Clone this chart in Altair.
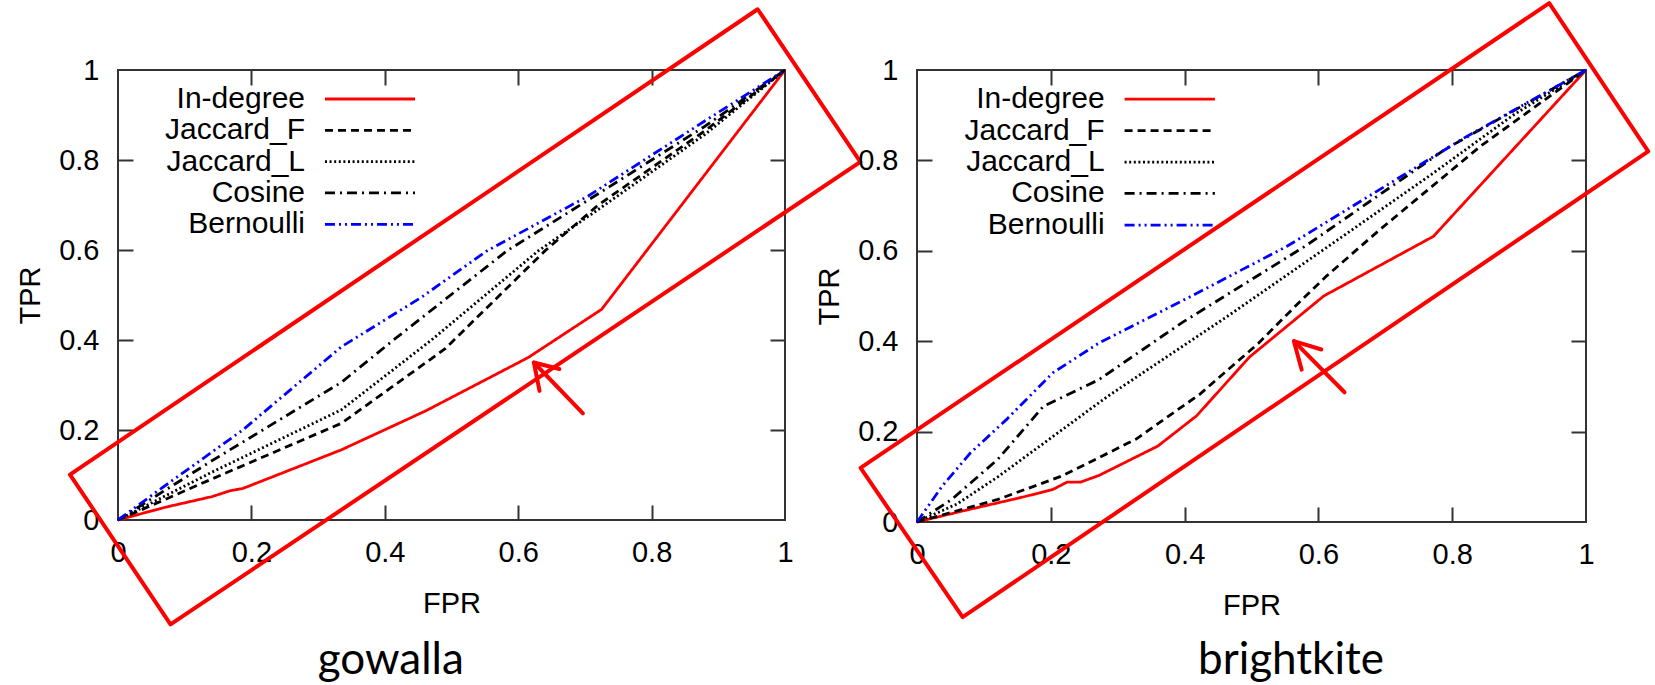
import altair as alt
import pandas as pd

# ---------------- series definitions ----------------
SERIES = ["In-degree", "Jaccard_F", "Jaccard_L", "Cosine", "Bernoulli"]
SERIES_COLORS = ["#ff0000", "#000000", "#000000", "#000000", "#0000ff"]
SERIES_DASHES = [[1, 0], [8, 5], [2, 2.6], [10, 5, 2, 5], [10, 4, 2, 4, 2, 4]]

AXIS_TICKS = [0, 0.2, 0.4, 0.6, 0.8, 1]
INNER_TICKS = [0.2, 0.4, 0.6, 0.8]

# ---------------- gowalla (left) ----------------
gow_indegree_fpr = [0, 0.07, 0.141, 0.168, 0.187, 0.335, 0.462, 0.615, 0.725, 1]
gow_indegree_tpr = [0, 0.028, 0.052, 0.065, 0.07, 0.156, 0.243, 0.361, 0.468, 1]
gow_jacf_fpr = [0, 0.139, 0.335, 0.49, 0.64, 0.72, 0.88, 1]
gow_jacf_tpr = [0, 0.09, 0.215, 0.38, 0.598, 0.7, 0.865, 1]
gow_jacl_fpr = [0, 0.139, 0.335, 0.47, 0.63, 0.72, 0.88, 1]
gow_jacl_tpr = [0, 0.105, 0.245, 0.4, 0.598, 0.69, 0.857, 1]
gow_cos_fpr = [0, 0.139, 0.335, 0.413, 0.583, 0.72, 0.88, 1]
gow_cos_tpr = [0, 0.13, 0.306, 0.4, 0.598, 0.725, 0.875, 1]
gow_ber_fpr = [0, 0.06, 0.187, 0.335, 0.455, 0.553, 0.705, 0.878, 1]
gow_ber_tpr = [0, 0.065, 0.2, 0.385, 0.495, 0.598, 0.72, 0.885, 1]

# ---------------- brightkite (right) ----------------
bk_indegree_fpr = [0, 0.07, 0.155, 0.203, 0.224, 0.244, 0.272, 0.36, 0.418, 0.497, 0.608, 0.772, 1]
bk_indegree_tpr = [0, 0.025, 0.054, 0.072, 0.088, 0.088, 0.103, 0.168, 0.235, 0.365, 0.5, 0.632, 1]
bk_jacf_fpr = [0, 0.121, 0.217, 0.327, 0.423, 0.51, 0.574, 0.612, 0.692, 0.842, 1]
bk_jacf_tpr = [0, 0.05, 0.102, 0.183, 0.283, 0.395, 0.49, 0.544, 0.647, 0.831, 1]
bk_jacl_fpr = [0, 0.06, 0.121, 0.285, 0.464, 0.615, 0.77, 0.891, 1]
bk_jacl_tpr = [0, 0.04, 0.1, 0.278, 0.455, 0.61, 0.77, 0.9, 1]
bk_cos_fpr = [0, 0.052, 0.121, 0.189, 0.272, 0.395, 0.58, 0.79, 1]
bk_cos_tpr = [0, 0.05, 0.139, 0.256, 0.315, 0.44, 0.61, 0.825, 1]
bk_ber_fpr = [0, 0.038, 0.08, 0.134, 0.203, 0.272, 0.409, 0.553, 0.68, 0.817, 1]
bk_ber_tpr = [0, 0.08, 0.153, 0.227, 0.33, 0.396, 0.499, 0.61, 0.725, 0.849, 1]

# ---------------- legend (data units) ----------------
legend_text_fpr = 0.2804
legend_line_fpr = [0.3103, 0.4453]
legend_rows_tpr = [0.9356, 0.866, 0.7964, 0.727, 0.657]

# ---------------- red annotations (data units) ----------------
gow_rect_fpr = [-0.072, 0.959, 1.113, 0.0787, -0.072]
gow_rect_tpr = [0.101, 1.135, 0.796, -0.232, 0.101]
gow_shaft_fpr = [0.697, 0.6235]
gow_shaft_tpr = [0.237, 0.350]
gow_head_fpr = [0.632, 0.6235, 0.6617]
gow_head_tpr = [0.287, 0.350, 0.3356]

bk_rect_fpr = [-0.0843, 0.945, 1.093, 0.0682, -0.0843]
bk_rect_tpr = [0.1196, 1.148, 0.82, -0.2104, 0.1196]
bk_shaft_fpr = [0.639, 0.5634]
bk_shaft_tpr = [0.287, 0.400]
bk_head_fpr = [0.575, 0.5634, 0.6045]
bk_head_tpr = [0.337, 0.400, 0.3816]

gow_caption = "gowalla"
gow_caption_fpr = 0.409
bk_caption = "brightkite"
bk_caption_fpr = 0.559

FONT = "Liberation Sans"
FS = 29
FRAME = "#333333"
LW = 2.8


def curves_frame(curves):
    rows = []
    for name, (fx, ty) in zip(SERIES, curves):
        for i, (a, b) in enumerate(zip(fx, ty)):
            rows.append({"series": name, "fpr": a, "tpr": b, "idx": i})
    return pd.DataFrame(rows)


def shapes_frame(shapes):
    rows = []
    for name, (fx, ty) in shapes.items():
        for i, (a, b) in enumerate(zip(fx, ty)):
            rows.append({"shape": name, "fpr": a, "tpr": b, "idx": i})
    return pd.DataFrame(rows)


def tick_axis(orient):
    return alt.Axis(orient=orient, values=INNER_TICKS, labels=False, domain=False,
                    grid=False, ticks=True, tickSize=15, tickWidth=2,
                    tickColor=FRAME, offset=-15, title=None)


def panel(curves, shapes, caption, caption_fpr, w, h):
    xs = alt.Scale(domain=[0, 1], nice=False, zero=False)
    ys = alt.Scale(domain=[0, 1], nice=False, zero=False)
    color = alt.Color("series:N", scale=alt.Scale(domain=SERIES, range=SERIES_COLORS), legend=None)
    dash = alt.StrokeDash("series:N", scale=alt.Scale(domain=SERIES, range=SERIES_DASHES), legend=None)

    x_lab = alt.Axis(orient="bottom", values=AXIS_TICKS, format="~g", ticks=False, domain=False,
                     grid=False, labelFont=FONT, labelFontSize=FS, labelColor="#000",
                     labelPadding=18, labelFlush=False, labelOverlap=False, labelBound=False,
                     title="FPR", titleFont=FONT, titleFontSize=FS, titleFontWeight="normal",
                     titleColor="#000", titlePadding=22)
    y_lab = alt.Axis(orient="left", values=AXIS_TICKS, format="~g", ticks=False, domain=False,
                     grid=False, labelFont=FONT, labelFontSize=FS, labelColor="#000",
                     labelPadding=19, labelFlush=False, labelOverlap=False, labelBound=False,
                     title="TPR", titleFont=FONT, titleFontSize=FS, titleFontWeight="normal",
                     titleColor="#000", titlePadding=13)

    df = curves_frame(curves)
    lines = alt.Chart(df).mark_line(strokeWidth=LW, clip=False).encode(
        x=alt.X("fpr:Q", scale=xs, axis=x_lab),
        y=alt.Y("tpr:Q", scale=ys, axis=y_lab),
        color=color, strokeDash=dash, order=alt.Order("idx:Q"),
    )

    leg = pd.DataFrame({
        "series": SERIES,
        "tx": [legend_text_fpr] * 5,
        "x1": [legend_line_fpr[0]] * 5,
        "x2": [legend_line_fpr[1]] * 5,
        "ty": legend_rows_tpr,
    })
    leg_text = alt.Chart(leg).mark_text(align="right", baseline="middle", font=FONT,
                                        fontSize=30, color="#000").encode(
        x=alt.X("tx:Q", scale=xs, axis=tick_axis("bottom")),
        y=alt.Y("ty:Q", scale=ys, axis=tick_axis("left")),
        text="series:N",
    )
    leg_line = alt.Chart(leg).mark_rule(strokeWidth=LW).encode(
        x=alt.X("x1:Q", scale=xs, axis=tick_axis("top")),
        x2="x2:Q",
        y=alt.Y("ty:Q", scale=ys, axis=tick_axis("right")),
        color=color, strokeDash=dash,
    )

    sdf = shapes_frame(shapes)
    annot = alt.Chart(sdf).mark_line(color="#ff0000", strokeWidth=4, strokeJoin="round",
                                      strokeCap="round", clip=False).encode(
        x=alt.X("fpr:Q", scale=xs, axis=None),
        y=alt.Y("tpr:Q", scale=ys, axis=None),
        detail="shape:N", order=alt.Order("idx:Q"),
    )

    cap = alt.Chart(pd.DataFrame({"t": [caption], "cx": [caption_fpr]})).mark_text(
        font="Lato", fontSize=44, baseline="alphabetic", align="center", color="#000"
    ).encode(
        x=alt.X("cx:Q", scale=xs, axis=None),
        y=alt.value(604),
        text="t:N",
    )

    return alt.layer(lines, leg_line, leg_text, annot, cap).resolve_axis(
        x="independent", y="independent"
    ).properties(width=w, height=h)


left = panel(
    [(gow_indegree_fpr, gow_indegree_tpr), (gow_jacf_fpr, gow_jacf_tpr),
     (gow_jacl_fpr, gow_jacl_tpr), (gow_cos_fpr, gow_cos_tpr), (gow_ber_fpr, gow_ber_tpr)],
    {"rect": (gow_rect_fpr, gow_rect_tpr), "shaft": (gow_shaft_fpr, gow_shaft_tpr),
     "head": (gow_head_fpr, gow_head_tpr)},
    gow_caption, gow_caption_fpr, 667, 450,
)
right = panel(
    [(bk_indegree_fpr, bk_indegree_tpr), (bk_jacf_fpr, bk_jacf_tpr),
     (bk_jacl_fpr, bk_jacl_tpr), (bk_cos_fpr, bk_cos_tpr), (bk_ber_fpr, bk_ber_tpr)],
    {"rect": (bk_rect_fpr, bk_rect_tpr), "shaft": (bk_shaft_fpr, bk_shaft_tpr),
     "head": (bk_head_fpr, bk_head_tpr)},
    bk_caption, bk_caption_fpr, 669, 452,
)

chart = alt.hconcat(left, right, spacing=132, bounds="flush").configure_view(
    stroke=FRAME, strokeWidth=2
).properties(
    padding={"left": 15, "top": 0, "right": 0, "bottom": 0},
    background="white",
)

chart.save("out.html", embed_options={"renderer": "svg", "actions": False})
